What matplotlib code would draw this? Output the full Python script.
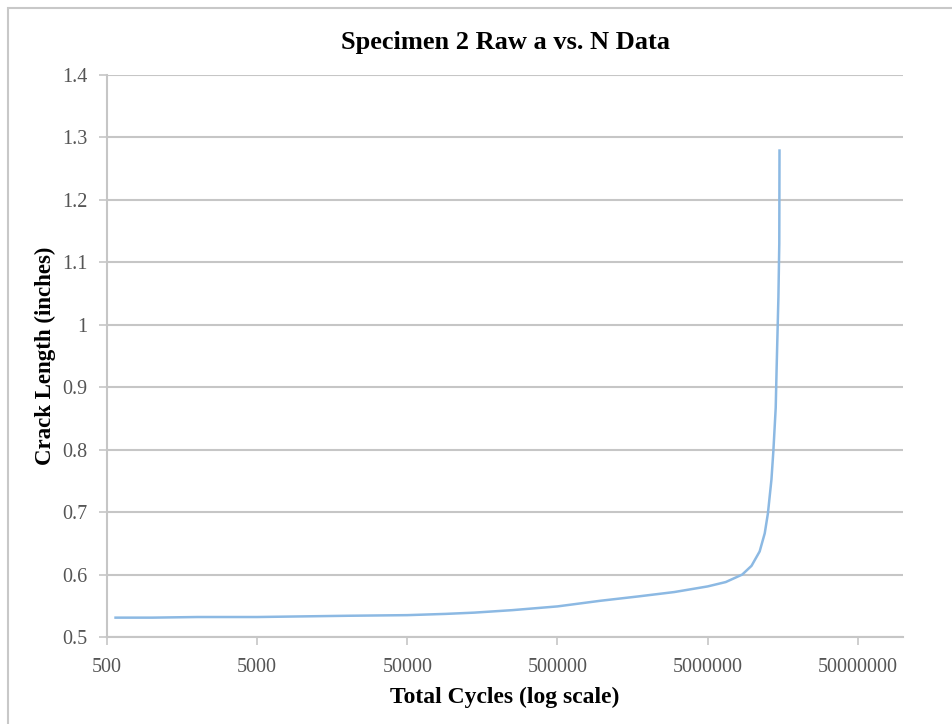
import numpy as np
import matplotlib
matplotlib.use('Agg')
import matplotlib.pyplot as plt
from matplotlib.ticker import FixedLocator, FuncFormatter, NullLocator
from matplotlib.patches import Rectangle

plt.rcParams['font.family'] = ['Liberation Serif', 'DejaVu Serif']

# crack length (in) against total cycles, specimen 2
cycles = [570, 1000, 2000, 5000, 10000, 20000, 50000, 90000, 139000, 250000,
          500000, 964000, 1730000, 3000000, 5000000, 6600000, 8500000,
          9800000, 11100000, 12000000, 12600000, 13300000, 13700000,
          14200000, 14400000, 14800000, 15000000, 15050000]
crack = [0.531, 0.531, 0.532, 0.532, 0.533, 0.534, 0.535, 0.537, 0.539, 0.543,
         0.549, 0.558, 0.565, 0.572, 0.581, 0.588, 0.600,
         0.614, 0.637, 0.666, 0.698, 0.752, 0.798,
         0.867, 0.930, 1.044, 1.130, 1.279]

x_ticks = [500, 5000, 50000, 500000, 5000000, 50000000]
y_ticks = [0.5, 0.6, 0.7, 0.8, 0.9, 1.0, 1.1, 1.2, 1.3, 1.4]

grid_c = '#c6c6c6'
text_c = '#555555'

fig = plt.figure(figsize=(9.52, 7.24), dpi=100)
fig.patches.append(Rectangle((8/952, -0.1), 1.2, 1 - 8/724 + 0.1, transform=fig.transFigure,
                             fill=False, edgecolor='#c8c8c8', linewidth=1.5))
ax = fig.add_axes([107/952, 1 - 637/724, 796/952, 562/724])

ax.plot(cycles, crack, color='#8cb9e3', linewidth=1.8)

ax.set_xscale('log')
ax.set_xlim(500, 1e8)
ax.set_ylim(0.5, 1.4)
ax.xaxis.set_major_locator(FixedLocator(x_ticks))
ax.xaxis.set_minor_locator(NullLocator())
ax.xaxis.set_major_formatter(FuncFormatter(lambda v, p: '%d' % round(v)))
ax.yaxis.set_major_locator(FixedLocator(y_ticks))
ax.yaxis.set_major_formatter(FuncFormatter(lambda v, p: '%g' % round(v, 1)))

ax.grid(axis='y', color=grid_c, linewidth=1.5)
ax.set_axisbelow(True)
for s in ['top', 'right']:
    ax.spines[s].set_visible(False)
for s in ['left', 'bottom']:
    ax.spines[s].set_color(grid_c)
    ax.spines[s].set_linewidth(1.5)
ax.tick_params(axis='both', colors=grid_c, length=6, width=1.2, direction='out',
               labelcolor=text_c, labelsize=14.5)
ax.tick_params(axis='x', pad=9)
ax.tick_params(axis='y', pad=8)

ax.set_title('Specimen 2 Raw a vs. N Data', fontsize=19, fontweight='bold',
             y=(637 - 42) / 562, va='center', pad=0)
ax.set_xlabel('Total Cycles (log scale)', fontsize=17, fontweight='bold', va='center')
ax.set_ylabel('Crack Length (inches)', fontsize=16.5, fontweight='bold', va='center')
ax.xaxis.set_label_coords(0.5, (637 - 697) / 562)
ax.yaxis.set_label_coords((45 - 107) / 796, 0.5)

fig.savefig('out.png', dpi=100)
